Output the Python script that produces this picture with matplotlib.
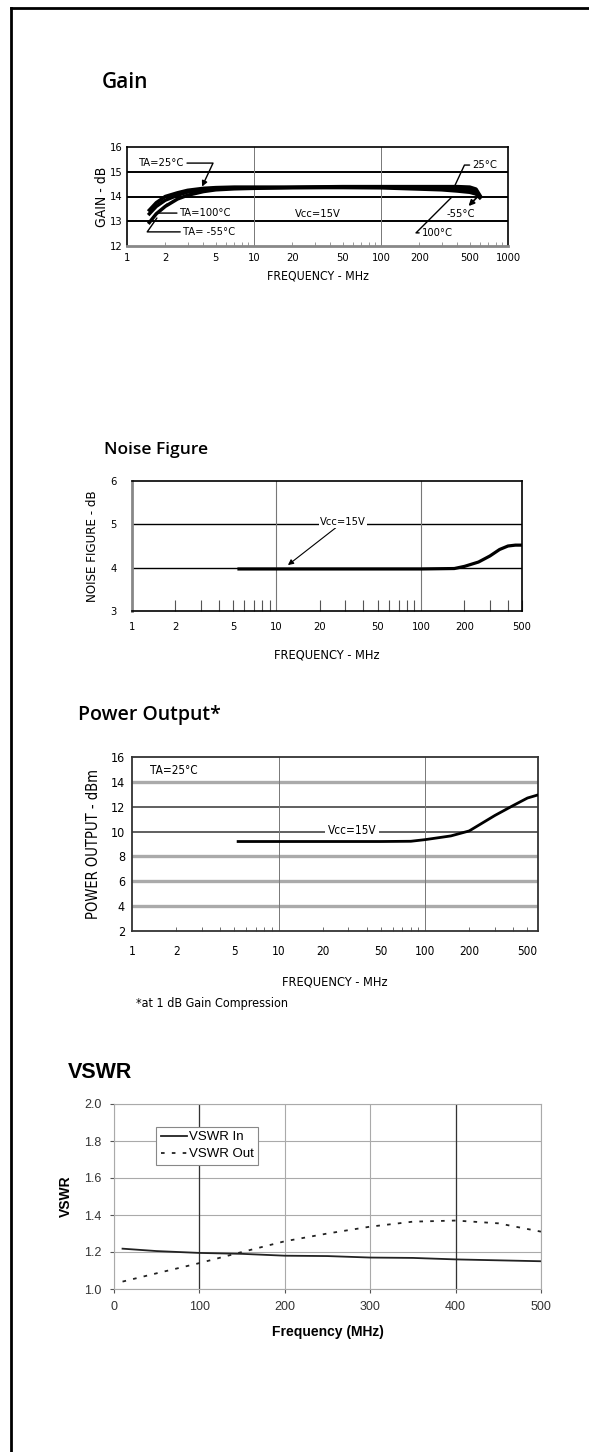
import matplotlib
matplotlib.use('Agg')
import matplotlib.pyplot as plt
from matplotlib.lines import Line2D
from matplotlib.ticker import NullFormatter, LogLocator

W, H = 589, 1452
NARROW = dict(family='DejaVu Sans', stretch='condensed')
ARIAL = ['Liberation Sans', 'DejaVu Sans']
TITLE = ['Open Sans', 'DejaVu Sans']

# ---- data ----
gain_freq = [1.5, 1.7, 2, 2.5, 3, 4, 5, 7, 10, 20, 50, 100, 200, 300, 400, 500, 560, 600]
gain_25 = [13.45, 13.75, 14.0, 14.15, 14.25, 14.33, 14.36, 14.38, 14.38, 14.38, 14.4, 14.4, 14.4, 14.4, 14.4, 14.38, 14.3, 14.05]
gain_100 = [13.3, 13.6, 13.85, 14.05, 14.18, 14.28, 14.33, 14.35, 14.35, 14.36, 14.36, 14.35, 14.3, 14.27, 14.22, 14.17, 14.1, 13.95]
gain_m55 = [12.95, 13.3, 13.6, 13.9, 14.05, 14.2, 14.27, 14.31, 14.33, 14.36, 14.38, 14.38, 14.38, 14.36, 14.33, 14.28, 14.2, 14.0]
gain_xticks = [1, 2, 5, 10, 20, 50, 100, 200, 500, 1000]
gain_yticks = [12, 13, 14, 15, 16]

nf_freq = [5.5, 10, 20, 50, 100, 170, 200, 250, 300, 350, 400, 450, 500]
nf_vals = [3.97, 3.97, 3.97, 3.97, 3.97, 3.98, 4.03, 4.13, 4.27, 4.42, 4.5, 4.52, 4.52]
nf_xticks = [1, 2, 5, 10, 20, 50, 100, 200, 500]
nf_yticks = [3, 4, 5, 6]

po_freq = [5.3, 10, 20, 50, 80, 100, 150, 200, 300, 400, 500, 590]
po_vals = [9.2, 9.2, 9.2, 9.2, 9.22, 9.35, 9.65, 10.05, 11.3, 12.1, 12.7, 12.95]
po_xticks = [1, 2, 5, 10, 20, 50, 100, 200, 500]
po_yticks = [2, 4, 6, 8, 10, 12, 14, 16]

vswr_freq = [10, 50, 100, 150, 200, 250, 300, 350, 400, 450, 500]
vswr_in = [1.218, 1.205, 1.195, 1.19, 1.18, 1.178, 1.17, 1.168, 1.16, 1.155, 1.15]
vswr_out = [1.04, 1.085, 1.14, 1.2, 1.258, 1.30, 1.337, 1.364, 1.37, 1.355, 1.31]
vswr_xticks = [0, 100, 200, 300, 400, 500]
vswr_yticks = [1.0, 1.2, 1.4, 1.6, 1.8, 2.0]


def box(l, t, r, b):
    return [l / W, 1 - b / H, (r - l) / W, (b - t) / H]


fig = plt.figure(figsize=(W / 100, H / 100), dpi=100)

# page border (top and left only)
fig.add_artist(Line2D([10.5 / W, 1], [1 - 8 / H, 1 - 8 / H], color='black', lw=2))
fig.add_artist(Line2D([10.5 / W, 10.5 / W], [0, 1 - 8 / H], color='black', lw=2))

# ---- Gain ----
fig.text(102 / W, 1 - 83 / H, 'Gain', fontsize=15, family=TITLE, fontweight='semibold', va='center')
ax = fig.add_axes(box(127, 147, 508, 246))
ax.set_xscale('log')
ax.set_xlim(1, 1000)
ax.set_ylim(12, 16)
for y in [13, 14, 15]:
    ax.axhline(y, color='black', lw=1.4, zorder=1)
for x in [10, 100]:
    ax.axvline(x, color='#777777', lw=0.7, zorder=1)
ax.plot(gain_freq, gain_m55, color='black', lw=2.5, zorder=3)
ax.plot(gain_freq, gain_100, color='black', lw=2.5, zorder=3)
ax.plot(gain_freq, gain_25, color='black', lw=2.5, zorder=3)
ax.set_xticks(gain_xticks)
ax.set_xticklabels([str(v) for v in gain_xticks], fontsize=8, **NARROW)
ax.set_yticks(gain_yticks)
ax.set_yticklabels([str(v) for v in gain_yticks], fontsize=8, **NARROW)
ax.xaxis.set_minor_locator(LogLocator(base=10, subs=range(2, 10), numticks=20))
ax.xaxis.set_minor_formatter(NullFormatter())
ax.xaxis.remove_overlapping_locs = False
ax.tick_params(axis='x', which='both', direction='in', length=3, color='#888888', pad=5)
ax.tick_params(axis='x', which='major', length=0)
ax.tick_params(axis='y', length=0, pad=3)
for s in ax.spines.values():
    s.set_linewidth(1.2)
ax.spines['bottom'].set_color('#888888')
ax.spines['bottom'].set_linewidth(2)
ax.set_xlabel('FREQUENCY - MHz', fontsize=8.8, labelpad=5, **NARROW)
ax.set_ylabel('GAIN - dB', fontsize=10, labelpad=1, **NARROW)
lead = dict(arrowstyle='-', color='black', lw=1, shrinkA=0, shrinkB=0)
ax.annotate('TA=25°C', xy=(3.9, 14.4), xytext=(1.24, 15.35), fontsize=8, va='center', **NARROW,
            arrowprops=dict(arrowstyle='-|>', color='black', lw=1, mutation_scale=8,
                            shrinkA=0, shrinkB=0,
                            connectionstyle='angle,angleA=0,angleB=65,rad=0'))
ax.annotate('TA=100°C', xy=(2.07, 13.7), xytext=(2.6, 13.33), fontsize=8, va='center', **NARROW,
            arrowprops=dict(lead, connectionstyle='angle,angleA=0,angleB=45,rad=0'))
ax.annotate('TA= -55°C', xy=(1.72, 13.13), xytext=(2.76, 12.57), fontsize=8, va='center', **NARROW,
            arrowprops=dict(lead, connectionstyle='angle,angleA=0,angleB=55,rad=0'))
ax.text(32, 13.3, 'Vcc=15V', fontsize=8, ha='center', va='center', **NARROW)
ax.annotate('25°C', xy=(380, 14.42), xytext=(524, 15.27), fontsize=8, va='center', **NARROW,
            arrowprops=dict(lead, connectionstyle='angle,angleA=0,angleB=65,rad=0'))
ax.annotate('-55°C', xy=(590, 14.05), xytext=(330, 13.3), fontsize=8, va='center', **NARROW,
            arrowprops=dict(arrowstyle='<|-', color='black', lw=1.3, mutation_scale=8,
                            shrinkA=0, shrinkB=0))
ax.annotate('100°C', xy=(360, 13.97), xytext=(210, 12.53), fontsize=8, va='center', **NARROW,
            arrowprops=dict(lead, connectionstyle='angle,angleA=0,angleB=45,rad=0'))

# ---- Noise Figure ----
fig.text(104 / W, 1 - 450 / H, 'Noise Figure', fontsize=12.5, family=TITLE, fontweight='semibold', va='center')
ax = fig.add_axes(box(132, 481, 522, 611))
ax.set_xscale('log')
ax.set_xlim(1, 500)
ax.set_ylim(3, 6)
for y in [4, 5]:
    ax.axhline(y, color='black', lw=1.0, zorder=1)
for x in [10, 100]:
    ax.axvline(x, color='#777777', lw=0.8, zorder=1)
ax.plot(nf_freq, nf_vals, color='black', lw=2.3, zorder=3)
ax.set_xticks(nf_xticks)
ax.set_xticklabels([str(v) for v in nf_xticks], fontsize=8, **NARROW)
ax.set_yticks(nf_yticks)
ax.set_yticklabels([str(v) for v in nf_yticks], fontsize=8, **NARROW)
ax.xaxis.set_minor_locator(LogLocator(base=10, subs=range(2, 10), numticks=20))
ax.xaxis.set_minor_formatter(NullFormatter())
ax.xaxis.remove_overlapping_locs = False
ax.tick_params(axis='x', which='minor', direction='in', length=8, color='#555555', width=0.8)
ax.tick_params(axis='x', which='major', length=0, pad=8)
ax.tick_params(axis='y', length=0, pad=11)
for s in ax.spines.values():
    s.set_linewidth(1.2)
ax.spines['left'].set_color('#888888')
ax.spines['left'].set_linewidth(2)
ax.set_xlabel('FREQUENCY - MHz', fontsize=9.2, labelpad=12, **NARROW)
ax.set_ylabel('NOISE FIGURE - dB', fontsize=9.5, labelpad=8, **NARROW)
ax.annotate('Vcc=15V', xy=(12, 4.06), xytext=(20, 5.05), fontsize=8, va='center', ha='left', **NARROW,
            bbox=dict(facecolor='white', edgecolor='none', pad=0.5),
            arrowprops=dict(arrowstyle='-|>', color='black', lw=0.8, mutation_scale=8,
                            shrinkA=0, shrinkB=0))

# ---- Power Output ----
fig.text(78 / W, 1 - 715 / H, 'Power Output*', fontsize=14, family=TITLE, fontweight='semibold', va='center')
ax = fig.add_axes(box(132, 757, 538, 931))
ax.set_xscale('log')
ax.set_xlim(1, 590)
ax.set_ylim(2, 16)
for y in [4, 6, 8, 14]:
    ax.axhline(y, color='#aaaaaa', lw=2.4, zorder=1)
for y in [10, 12]:
    ax.axhline(y, color='#444444', lw=1.2, zorder=1)
for x in [10, 100]:
    ax.axvline(x, color='#777777', lw=0.7, zorder=1)
ax.plot(po_freq, po_vals, color='black', lw=2.0, zorder=3)
ax.set_xticks(po_xticks)
ax.set_xticklabels([str(v) for v in po_xticks], fontsize=8.5, **NARROW)
ax.set_yticks(po_yticks)
ax.set_yticklabels([str(v) for v in po_yticks], fontsize=9, **NARROW)
ax.xaxis.set_minor_locator(LogLocator(base=10, subs=range(2, 10), numticks=20))
ax.xaxis.set_minor_formatter(NullFormatter())
ax.xaxis.remove_overlapping_locs = False
ax.tick_params(axis='x', which='both', direction='in', length=3, color='#555555', pad=10)
ax.tick_params(axis='x', which='major', length=0)
ax.tick_params(axis='y', length=0, pad=5)
for s in ax.spines.values():
    s.set_linewidth(1.3)
    s.set_color('#333333')
ax.set_xlabel('FREQUENCY - MHz', fontsize=9.2, labelpad=13, **NARROW)
ax.set_ylabel('POWER OUTPUT - dBm', fontsize=10.5, labelpad=7, **NARROW)
ax.text(1.32, 14.9, 'TA=25°C', fontsize=8.5, va='center', **NARROW)
ax.text(31.6, 10.05, 'Vcc=15V', fontsize=8.5, ha='center', va='center', **NARROW,
        bbox=dict(facecolor='white', edgecolor='none', pad=2), zorder=2)
fig.text(136 / W, 1 - 1003 / H, '*at 1 dB Gain Compression', fontsize=9, va='center', **NARROW)

# ---- VSWR ----
fig.text(68 / W, 1 - 1072 / H, 'VSWR', fontsize=15.5, family=ARIAL, fontweight='bold', va='center')
ax = fig.add_axes(box(114, 1104, 541, 1289))
ax.set_xlim(0, 500)
ax.set_ylim(1.0, 2.0)
ax.set_xticks(vswr_xticks)
ax.set_yticks(vswr_yticks)
ax.set_xticklabels([str(v) for v in vswr_xticks], family=ARIAL, fontsize=9, color='#333333')
ax.set_yticklabels(['%.1f' % v for v in vswr_yticks], family=ARIAL, fontsize=9, color='#333333')
ax.grid(True, color='#aaaaaa', lw=0.8)
for x in [100, 400]:
    ax.axvline(x, color='#333333', lw=0.9, zorder=1)
ax.set_axisbelow(True)
ax.plot(vswr_freq, vswr_in, color='#222222', lw=1.3, label='VSWR In')
ax.plot(vswr_freq, vswr_out, color='#222222', lw=1.3, ls=(0, (2, 4)), label='VSWR Out')
for s in ax.spines.values():
    s.set_color('#aaaaaa')
    s.set_linewidth(0.8)
ax.tick_params(length=3, color='#555555', pad=6)
ax.set_xlabel('Frequency (MHz)', family=ARIAL, fontsize=10, fontweight='bold', labelpad=8)
ax.set_ylabel('VSWR', family=ARIAL, fontsize=10, fontweight='bold', labelpad=8)
leg = ax.legend(loc='upper left', bbox_to_anchor=(0.084, 0.914), fancybox=False,
                framealpha=1, edgecolor='#888888', handlelength=2.0, handletextpad=0.1,
                borderpad=0.35, labelspacing=0.35, prop={'family': ARIAL, 'size': 9.5})
leg.get_frame().set_linewidth(0.8)

fig.savefig('out.png', dpi=100)
